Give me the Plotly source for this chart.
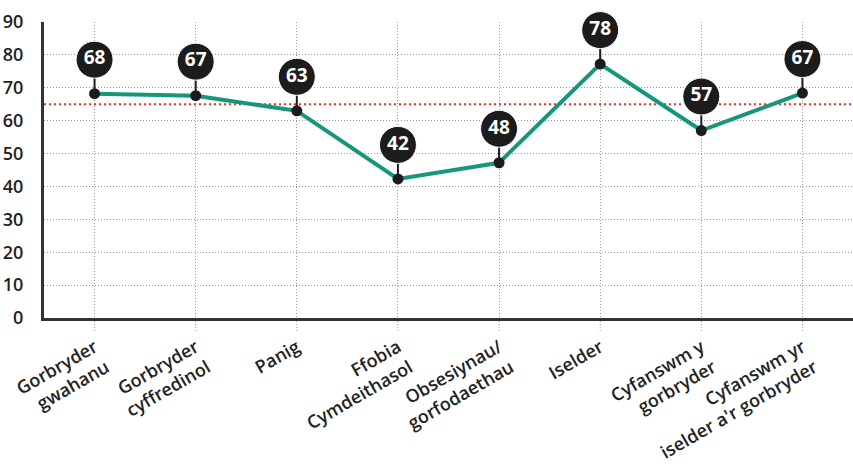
import plotly.graph_objects as go

categories = ["Gorbryder<br>gwahanu", "Gorbryder<br>cyffredinol", "Panig", "Ffobia<br>Cymdeithasol",
              "Obsesiynau/<br>gorfodaethau", "Iselder", "Cyfanswm y<br>gorbryder", "Cyfanswm yr<br>iselder a'r gorbryder"]
values = [68.2, 67.6, 63.0, 42.3, 47.2, 77.2, 57.0, 68.4]
labels = ["68", "67", "63", "42", "48", "78", "57", "67"]
reference_value = 65
y_ticks = [0, 10, 20, 30, 40, 50, 60, 70, 80, 90]

W, H = 853, 466
m_l, m_r, m_t, m_b = 44, 0, 22, 148
y_max = 90
plot_h = H - m_t - m_b
ppu = plot_h / y_max
offset = 34 / ppu

xs = list(range(len(categories)))
bubble_y = [v + offset for v in values]

FONT = "Open Sans"
fig = go.Figure()

# reference line
fig.add_trace(go.Scatter(x=[-0.5, len(categories) - 0.5], y=[reference_value] * 2, mode="lines",
                         line=dict(color="#ee2a24", width=2, dash="2px,3px"), hoverinfo="skip"))

# main line
fig.add_trace(go.Scatter(x=xs, y=values, mode="lines", line=dict(color="#14977a", width=4),
                         hoverinfo="skip"))

# connectors
cx, cy = [], []
for x, v, b in zip(xs, values, bubble_y):
    cx += [x, x, None]
    cy += [v, b, None]
fig.add_trace(go.Scatter(x=cx, y=cy, mode="lines", line=dict(color="#1c1c1c", width=2), hoverinfo="skip"))

# points
fig.add_trace(go.Scatter(x=xs, y=values, mode="markers", marker=dict(color="#1c1c1c", size=11),
                         hoverinfo="skip", cliponaxis=False))

# bubbles
fig.add_trace(go.Scatter(x=xs, y=bubble_y, mode="markers+text", text=labels, textposition="middle center",
                         textfont=dict(color="white", size=19, family=FONT, weight="bold"),
                         marker=dict(color="#1c1c1c", size=37, line=dict(color="white", width=1)),
                         hoverinfo="skip", cliponaxis=False))

shapes = []
for x in xs:
    shapes.append(dict(type="line", xref="x", yref="paper", x0=x, x1=x, y0=0, y1=-15 / plot_h,
                       line=dict(color="#999999", width=1, dash="1px,2px"), layer="below"))

tf = dict(size=18, color="#222222", family=FONT, weight=600)
fig.update_layout(
    width=W, height=H, margin=dict(l=m_l, r=m_r, t=m_t, b=m_b, autoexpand=False),
    paper_bgcolor="white", plot_bgcolor="white", showlegend=False,
    font=dict(family=FONT, color="#222222", size=18),
    shapes=shapes,
    xaxis=dict(range=[-0.5, len(categories) - 0.5], tickmode="array", tickvals=xs, ticktext=categories,
               tickangle=-30, showgrid=True, gridcolor="#999999", griddash="1px,2px", gridwidth=1,
               ticks="outside", ticklen=9, tickcolor="rgba(0,0,0,0)", automargin=False,
               showline=True, linecolor="#333333", linewidth=3, zeroline=False,
               tickfont=tf),
    yaxis=dict(range=[0, y_max], tickvals=y_ticks, showgrid=True, gridcolor="#999999", griddash="1px,2px",
               gridwidth=1, showline=True, linecolor="#333333", linewidth=3, zeroline=False,
               automargin=False, ticks="", ticklabelstandoff=14, tickfont=tf),
)

fig.write_html("out.html")
